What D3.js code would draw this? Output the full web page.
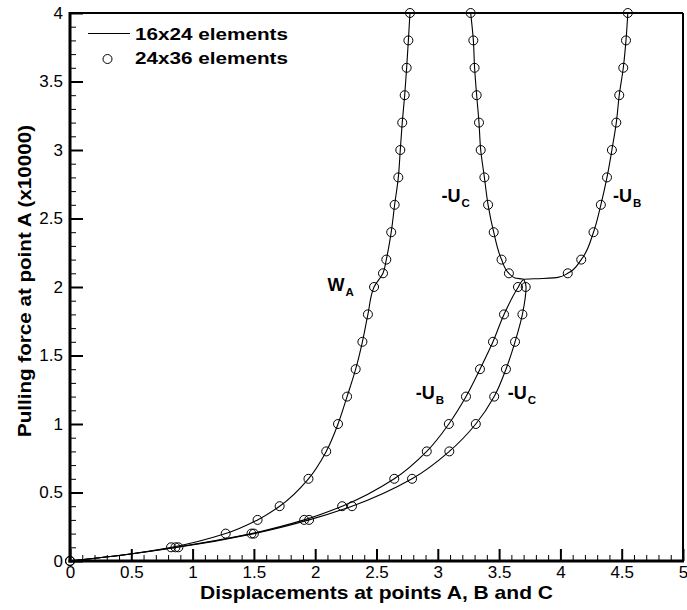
<!DOCTYPE html>
<html>
<head>
<meta charset="utf-8">
<script src="https://cdn.jsdelivr.net/npm/d3@7"></script>
<style>
  html, body { margin: 0; padding: 0; background: #fff; }
  svg { display: block; }
  text { font-family: "Liberation Sans", Arial, sans-serif; fill: #000; }
</style>
</head>
<body>
<svg id="chart" width="687" height="610"></svg>
<script>
// ---------- data ----------
const xTicks = [0, 0.5, 1, 1.5, 2, 2.5, 3, 3.5, 4, 4.5, 5];
const xTickLabels = ["0", "0.5", "1", "1.5", "2", "2.5", "3", "3.5", "4", "4.5", "5"];
const yTicks = [0, 0.5, 1, 1.5, 2, 2.5, 3, 3.5, 4];
const yTickLabels = ["0", "0.5", "1", "1.5", "2", "2.5", "3", "3.5", "4"];
const minorStep = 0.1;

// 16x24 elements (solid lines) : [displacement, force]
const lineWA = [[0,0],[0.4,0.04],[0.83,0.1],[1.27,0.2],[1.53,0.3],[1.71,0.4],[1.945,0.6],[2.09,0.8],[2.186,1.0],[2.26,1.2],[2.33,1.4],[2.385,1.6],[2.43,1.8],[2.48,2.0],[2.553,2.1],[2.58,2.2],[2.62,2.4],[2.648,2.6],[2.678,2.8],[2.694,3.0],[2.71,3.2],[2.73,3.4],[2.746,3.6],[2.76,3.8],[2.773,4.0]];
const lineUB = [[0,0],[0.4,0.04],[0.86,0.1],[1.48,0.2],[1.91,0.3],[2.22,0.4],[2.645,0.6],[2.91,0.8],[3.09,1.0],[3.23,1.2],[3.344,1.4],[3.45,1.6],[3.54,1.8],[3.657,2.0],[3.70,2.056],[3.85,2.062],[3.98,2.07],[4.06,2.1],[4.17,2.2],[4.27,2.4],[4.33,2.6],[4.38,2.8],[4.42,3.0],[4.456,3.2],[4.48,3.4],[4.513,3.6],[4.535,3.8],[4.55,4.0]];
const lineUC = [[0,0],[0.4,0.04],[0.88,0.1],[1.50,0.2],[1.95,0.3],[2.30,0.4],[2.79,0.6],[3.094,0.8],[3.31,1.0],[3.46,1.2],[3.556,1.4],[3.63,1.6],[3.69,1.8],[3.72,2.0],[3.70,2.056],[3.63,2.066],[3.58,2.1],[3.52,2.2],[3.456,2.4],[3.41,2.6],[3.38,2.8],[3.35,3.0],[3.336,3.2],[3.317,3.4],[3.30,3.6],[3.29,3.8],[3.268,4.0]];

// 24x36 elements (circles)
const ptsWA = [[0,0],[0.824,0.1],[1.27,0.2],[1.53,0.3],[1.71,0.4],[1.945,0.6],[2.09,0.8],[2.186,1.0],[2.26,1.2],[2.33,1.4],[2.385,1.6],[2.43,1.8],[2.48,2.0],[2.553,2.1],[2.58,2.2],[2.62,2.4],[2.648,2.6],[2.678,2.8],[2.694,3.0],[2.71,3.2],[2.73,3.4],[2.746,3.6],[2.76,3.8],[2.773,4.0]];
const ptsUB = [[0,0],[0.86,0.1],[1.48,0.2],[1.91,0.3],[2.22,0.4],[2.645,0.6],[2.91,0.8],[3.09,1.0],[3.23,1.2],[3.344,1.4],[3.45,1.6],[3.54,1.8],[3.654,2.0],[4.06,2.1],[4.17,2.2],[4.27,2.4],[4.33,2.6],[4.38,2.8],[4.42,3.0],[4.456,3.2],[4.48,3.4],[4.513,3.6],[4.535,3.8],[4.55,4.0]];
const ptsUC = [[0,0],[0.884,0.1],[1.50,0.2],[1.95,0.3],[2.30,0.4],[2.79,0.6],[3.094,0.8],[3.31,1.0],[3.46,1.2],[3.556,1.4],[3.63,1.6],[3.69,1.8],[3.717,2.0],[3.58,2.1],[3.52,2.2],[3.456,2.4],[3.41,2.6],[3.38,2.8],[3.35,3.0],[3.336,3.2],[3.317,3.4],[3.30,3.6],[3.29,3.8],[3.268,4.0]];

const legendItems = ["16x24 elements", "24x36 elements"];
// curve labels: [x, y, main, subscript]
const curveLabels = [
  [2.1, 1.97, "W", "A"],
  [3.03, 2.62, "-U", "C"],
  [4.43, 2.62, "-U", "B"],
  [2.82, 1.18, "-U", "B"],
  [3.57, 1.18, "-U", "C"]
];

// ---------- layout ----------
const svg = d3.select("#chart");
const x = d3.scaleLinear().domain([0, 5]).range([70, 683]);
const y = d3.scaleLinear().domain([0, 4]).range([561, 13]);

const minorX = d3.range(0, 5.0001, minorStep).map(v => +v.toFixed(2)).filter(v => Math.abs(v*2 - Math.round(v*2)) > 1e-6);
const minorY = d3.range(0, 4.0001, minorStep).map(v => +v.toFixed(2)).filter(v => Math.abs(v*2 - Math.round(v*2)) > 1e-6);

// minor ticks
svg.append("g").attr("transform", `translate(0,${y(0)})`)
  .call(d3.axisBottom(x).tickValues(minorX).tickSize(-6).tickFormat(""))
  .call(g => g.select(".domain").remove())
  .call(g => g.selectAll("line").attr("stroke", "#000").attr("stroke-width", 1));
svg.append("g").attr("transform", `translate(${x(0)},0)`)
  .call(d3.axisLeft(y).tickValues(minorY).tickSize(-6).tickFormat(""))
  .call(g => g.select(".domain").remove())
  .call(g => g.selectAll("line").attr("stroke", "#000").attr("stroke-width", 1));

// major ticks + labels
svg.append("g").attr("transform", `translate(0,${y(0)})`)
  .call(d3.axisBottom(x).tickValues(xTicks).tickSize(-12).tickPadding(5)
        .tickFormat((d, i) => xTickLabels[i]))
  .call(g => g.select(".domain").remove())
  .call(g => g.selectAll("line").attr("stroke", "#000").attr("stroke-width", 2))
  .call(g => g.selectAll("text").attr("font-size", 17).attr("font-family", "Liberation Sans, Arial, sans-serif"));
svg.append("g").attr("transform", `translate(${x(0)},0)`)
  .call(d3.axisLeft(y).tickValues(yTicks).tickSize(-13).tickPadding(7)
        .tickFormat((d, i) => yTickLabels[i]))
  .call(g => g.select(".domain").remove())
  .call(g => g.selectAll("line").attr("stroke", "#000").attr("stroke-width", 2))
  .call(g => g.selectAll("text").attr("font-size", 17).attr("font-family", "Liberation Sans, Arial, sans-serif"));

// frame
svg.append("line").attr("x1", x(0)).attr("x2", x(5)).attr("y1", y(4)).attr("y2", y(4)).attr("stroke", "#000").attr("stroke-width", 2);
svg.append("line").attr("x1", x(5)).attr("x2", x(5)).attr("y1", y(4)).attr("y2", y(0)).attr("stroke", "#000").attr("stroke-width", 2);
svg.append("line").attr("x1", x(0)).attr("x2", x(0)).attr("y1", y(4) - 1).attr("y2", y(0) + 1.5).attr("stroke", "#000").attr("stroke-width", 3);
svg.append("line").attr("x1", x(0) - 1.5).attr("x2", x(5) + 1).attr("y1", y(0)).attr("y2", y(0)).attr("stroke", "#000").attr("stroke-width", 3);

// lines
const lineGen = d3.line().x(d => x(d[0])).y(d => y(d[1])).curve(d3.curveMonotoneY);
[lineWA, lineUB, lineUC].forEach(data => {
  svg.append("path").datum(data).attr("d", lineGen)
    .attr("fill", "none").attr("stroke", "#000").attr("stroke-width", 1.1);
});

// circles
[ptsWA, ptsUB, ptsUC].forEach(data => {
  svg.append("g").selectAll("circle").data(data).join("circle")
    .attr("cx", d => x(d[0])).attr("cy", d => y(d[1])).attr("r", 4.5)
    .attr("fill", "none").attr("stroke", "#000").attr("stroke-width", 1);
});

// curve labels
curveLabels.forEach(([lx, ly, main, sub]) => {
  const t = svg.append("text").attr("x", x(lx)).attr("y", y(ly))
    .attr("font-size", 18).attr("font-weight", "bold");
  t.append("tspan").text(main);
  t.append("tspan").attr("font-size", 11.5).attr("dy", 5).attr("dx", 1).text(sub);
});

// legend
svg.append("line").attr("x1", 88).attr("x2", 130).attr("y1", 33.5).attr("y2", 33.5)
  .attr("stroke", "#000").attr("stroke-width", 1.1);
svg.append("circle").attr("cx", 107.5).attr("cy", 59).attr("r", 4.5)
  .attr("fill", "none").attr("stroke", "#000").attr("stroke-width", 1);
legendItems.forEach((txt, i) => {
  svg.append("text").attr("x", 135).attr("y", 40 + i * 24)
    .attr("font-size", 17).attr("font-weight", "bold")
    .attr("textLength", 153).attr("lengthAdjust", "spacingAndGlyphs").text(txt);
});

// axis titles
svg.append("text").attr("x", (x(0) + x(5)) / 2).attr("y", 599)
  .attr("text-anchor", "middle").attr("font-size", 18.5).attr("font-weight", "bold")
  .attr("textLength", 353).attr("lengthAdjust", "spacingAndGlyphs")
  .text("Displacements at points A, B and C");
svg.append("text").attr("transform", `translate(31,281) rotate(-90)`)
  .attr("text-anchor", "middle").attr("font-size", 18.5).attr("font-weight", "bold")
  .attr("textLength", 312).attr("lengthAdjust", "spacingAndGlyphs")
  .text("Pulling force at point A (x10000)");
</script>
</body>
</html>
